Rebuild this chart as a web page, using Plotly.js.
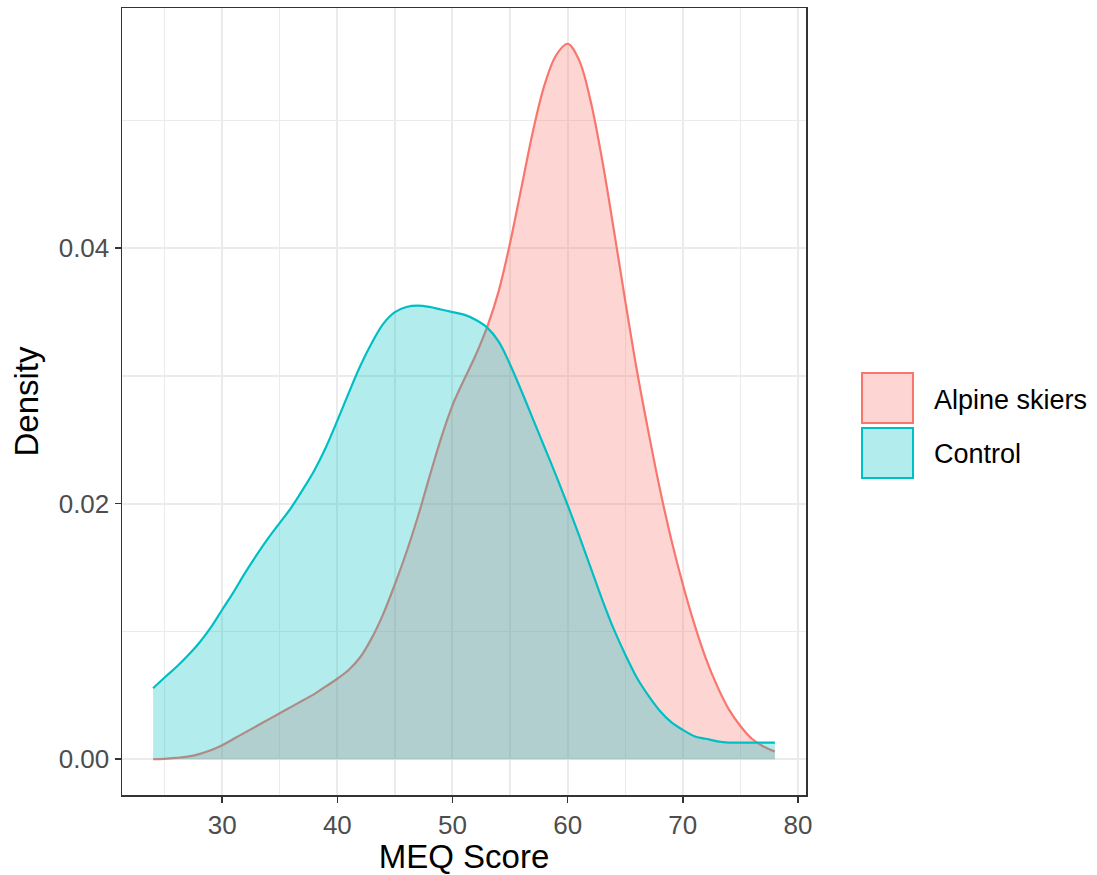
<!DOCTYPE html>
<html>
<head>
<meta charset="utf-8">
<script src="https://cdn.plot.ly/plotly-3.0.1.min.js"></script>
<style>html,body{margin:0;padding:0;background:#fff;}#chart{width:1097px;height:875px;}</style>
</head>
<body>
<div id="chart"></div>
<script>
var groupNames = ["Alpine skiers", "Control"];
var lineColors = ["#F8766D", "#00BFC4"];
var fillColors = ["rgba(248,118,109,0.3)", "rgba(0,191,196,0.3)"];

var alpineX = [24, 25, 26, 27, 28, 29, 30, 31, 32, 33, 34, 35, 36, 37, 38, 39, 40, 41, 42, 43, 44, 45, 46, 47, 48, 49, 50, 51, 52, 53, 54, 55, 56, 57, 58, 59, 60, 61, 62, 63, 64, 65, 66, 67, 68, 69, 70, 71, 72, 73, 74, 75, 76, 77, 78];
var alpineY = [0.0, 0.00003, 0.0001, 0.0002, 0.0004, 0.0007, 0.0011, 0.0016, 0.0021, 0.0026, 0.0031, 0.0036, 0.0041, 0.0046, 0.0051, 0.0057, 0.0063, 0.0070, 0.0080, 0.0095, 0.0114, 0.0137, 0.0162, 0.0190, 0.0221, 0.0251, 0.0277, 0.0297, 0.0316, 0.0338, 0.0366, 0.0404, 0.0448, 0.0492, 0.0528, 0.0551, 0.0560, 0.0547, 0.0515, 0.0469, 0.0415, 0.0359, 0.0305, 0.0257, 0.0212, 0.0172, 0.0137, 0.0106, 0.0079, 0.0057, 0.0039, 0.0026, 0.0016, 0.0010, 0.0006];

var controlX = [24, 25, 26, 27, 28, 29, 30, 31, 32, 33, 34, 35, 36, 37, 38, 39, 40, 41, 42, 43, 44, 45, 46, 47, 48, 49, 50, 51, 52, 53, 54, 55, 56, 57, 58, 59, 60, 61, 62, 63, 64, 65, 66, 67, 68, 69, 70, 71, 72, 73, 74, 75, 76, 77, 78];
var controlY = [0.00556, 0.0064, 0.0072, 0.0081, 0.0091, 0.0103, 0.0117, 0.0131, 0.0146, 0.0160, 0.0173, 0.0185, 0.0197, 0.0211, 0.0226, 0.0244, 0.0265, 0.0287, 0.0308, 0.0326, 0.0341, 0.0350, 0.0354, 0.0355, 0.0354, 0.0352, 0.0350, 0.0348, 0.0344, 0.0338, 0.0327, 0.0309, 0.0288, 0.0266, 0.0244, 0.0222, 0.0199, 0.0175, 0.0150, 0.0125, 0.0102, 0.0082, 0.0064, 0.0050, 0.0038, 0.0029, 0.0023, 0.0018, 0.0016, 0.0014, 0.0013, 0.0013, 0.0013, 0.0013, 0.0013];

var xTicks = [30, 40, 50, 60, 70, 80];
var yTicks = [0.00, 0.02, 0.04];
var yTickLabels = ["0.00", "0.02", "0.04"];

var xs = [alpineX, controlX];
var ys = [alpineY, controlY];
var traces = [];
for (var i = 0; i < 2; i++) {
  traces.push({
    x: xs[i], y: ys[i], type: "scatter", mode: "lines", name: groupNames[i],
    line: {color: lineColors[i], width: 2.2, shape: "spline", smoothing: 1},
    fill: "tozeroy", fillcolor: fillColors[i], showlegend: false, hoverinfo: "skip"
  });
}

var fontFam = "Liberation Sans, Arial, sans-serif";
var shapes = [], annotations = [];
var keyY = [[0.5362, 0.4727], [0.4663, 0.4028]];
var textY = [0.5019, 0.4333];
for (var j = 0; j < 2; j++) {
  shapes.push({type: "rect", xref: "paper", yref: "paper", x0: 1.0819, x1: 1.1564, y0: keyY[j][1], y1: keyY[j][0],
    line: {color: lineColors[j], width: 2}, fillcolor: fillColors[j]});
  annotations.push({xref: "paper", yref: "paper", x: 1.1842, y: textY[j], xanchor: "left", yanchor: "middle",
    text: groupNames[j], showarrow: false, font: {family: fontFam, size: 27, color: "#000"}});
}

var layout = {
  width: 1097, height: 875,
  margin: {l: 122, r: 291, t: 8, b: 80},
  paper_bgcolor: "#fff", plot_bgcolor: "#fff",
  showlegend: false,
  xaxis: {
    range: [21.3, 80.7], tickvals: xTicks, ticktext: xTicks.map(String),
    showgrid: true, gridcolor: "#EBEBEB", gridwidth: 2,
    minor: {dtick: 5, tick0: 0, showgrid: true, gridcolor: "#EBEBEB", gridwidth: 1.2, ticks: ""},
    zeroline: false, showline: true, mirror: true, linecolor: "#333", linewidth: 1.5,
    ticks: "outside", ticklen: 6, tickcolor: "#333", tickwidth: 1.5,
    tickfont: {family: fontFam, size: 26, color: "#4D4D4D"},
    title: {text: "MEQ Score", font: {family: fontFam, size: 33, color: "#000"}, standoff: 3}
  },
  yaxis: {
    range: [-0.0028, 0.0588], tickvals: yTicks, ticktext: yTickLabels,
    showgrid: true, gridcolor: "#EBEBEB", gridwidth: 2,
    minor: {dtick: 0.01, tick0: 0, showgrid: true, gridcolor: "#EBEBEB", gridwidth: 1.2, ticks: ""},
    zeroline: false, showline: true, mirror: true, linecolor: "#333", linewidth: 1.5,
    ticks: "outside", ticklen: 6, tickcolor: "#333", tickwidth: 1.5,
    tickfont: {family: fontFam, size: 26, color: "#4D4D4D"},
    title: {text: "Density", font: {family: fontFam, size: 33, color: "#000"}, standoff: 10}
  },
  shapes: shapes,
  annotations: annotations
};

Plotly.newPlot("chart", traces, layout, {staticPlot: true, displayModeBar: false});
</script>
</body>
</html>
